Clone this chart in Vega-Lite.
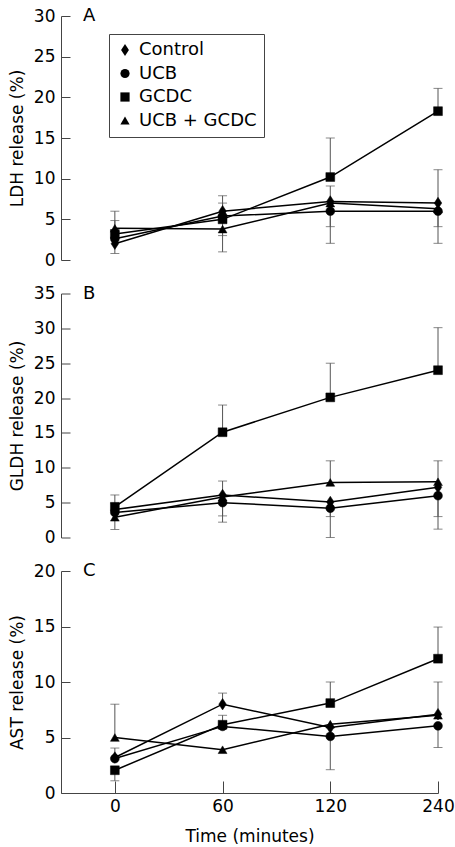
{
  "$schema": "https://vega.github.io/schema/vega-lite/v6.json",
  "padding": {"left": 8, "top": 7, "right": 10, "bottom": 2},
  "bounds": "flush",
  "spacing": 33.5,
  "config": {
    "view": {"stroke": null},
    "font": "DejaVu Sans",
    "axis": {"grid": false, "domainColor": "#444", "tickColor": "#444", "labelColor": "black", "titleColor": "black", "labelFontSize": 17, "titleFontSize": 17, "titleFontWeight": "normal", "labelFont": "DejaVu Sans", "titleFont": "DejaVu Sans", "labelOverlap": false},
    "title": {"fontSize": 18, "fontWeight": "normal", "font": "DejaVu Sans", "color": "black"}
  },
  "resolve": {"legend": {"shape": "independent"}},
  "data": {"values": [
    {"panel": "A", "time": 0, "group": "Control", "mean": 2.0, "err": 0.8},
    {"panel": "A", "time": 60, "group": "Control", "mean": 6.0, "err": 7.9},
    {"panel": "A", "time": 120, "group": "Control", "mean": 7.2, "err": 9.1},
    {"panel": "A", "time": 240, "group": "Control", "mean": 7.0, "err": 11.1},
    {"panel": "A", "time": 0, "group": "UCB", "mean": 2.6, "err": null},
    {"panel": "A", "time": 60, "group": "UCB", "mean": 5.4, "err": 7.0},
    {"panel": "A", "time": 120, "group": "UCB", "mean": 6.0, "err": 2.05},
    {"panel": "A", "time": 240, "group": "UCB", "mean": 6.0, "err": 4.1},
    {"panel": "A", "time": 0, "group": "GCDC", "mean": 3.2, "err": 4.85},
    {"panel": "A", "time": 60, "group": "GCDC", "mean": 5.0, "err": 3.0},
    {"panel": "A", "time": 120, "group": "GCDC", "mean": 10.2, "err": 15.0},
    {"panel": "A", "time": 240, "group": "GCDC", "mean": 18.3, "err": 21.1},
    {"panel": "A", "time": 0, "group": "UCB + GCDC", "mean": 3.9, "err": 6.0},
    {"panel": "A", "time": 60, "group": "UCB + GCDC", "mean": 3.8, "err": 1.0},
    {"panel": "A", "time": 120, "group": "UCB + GCDC", "mean": 7.0, "err": 4.1},
    {"panel": "A", "time": 240, "group": "UCB + GCDC", "mean": 6.3, "err": 2.05},
    {"panel": "B", "time": 0, "group": "Control", "mean": 4.0, "err": 4.9},
    {"panel": "B", "time": 60, "group": "Control", "mean": 6.1, "err": 8.1},
    {"panel": "B", "time": 120, "group": "Control", "mean": 5.1, "err": 3.0},
    {"panel": "B", "time": 240, "group": "Control", "mean": 7.2, "err": 3.0},
    {"panel": "B", "time": 0, "group": "UCB", "mean": 3.6, "err": null},
    {"panel": "B", "time": 60, "group": "UCB", "mean": 5.0, "err": 2.2},
    {"panel": "B", "time": 120, "group": "UCB", "mean": 4.2, "err": 0},
    {"panel": "B", "time": 240, "group": "UCB", "mean": 6.0, "err": 1.2},
    {"panel": "B", "time": 0, "group": "GCDC", "mean": 4.4, "err": 6.1},
    {"panel": "B", "time": 60, "group": "GCDC", "mean": 15.1, "err": 19.0},
    {"panel": "B", "time": 120, "group": "GCDC", "mean": 20.1, "err": 25.0},
    {"panel": "B", "time": 240, "group": "GCDC", "mean": 24.0, "err": 30.1},
    {"panel": "B", "time": 0, "group": "UCB + GCDC", "mean": 2.9, "err": 1.15},
    {"panel": "B", "time": 60, "group": "UCB + GCDC", "mean": 5.8, "err": 3.1},
    {"panel": "B", "time": 120, "group": "UCB + GCDC", "mean": 7.9, "err": 11.0},
    {"panel": "B", "time": 240, "group": "UCB + GCDC", "mean": 8.0, "err": 11.0},
    {"panel": "C", "time": 0, "group": "Control", "mean": 3.2, "err": 4.05},
    {"panel": "C", "time": 60, "group": "Control", "mean": 8.0, "err": 9.0},
    {"panel": "C", "time": 120, "group": "Control", "mean": 5.9, "err": null},
    {"panel": "C", "time": 240, "group": "Control", "mean": 7.1, "err": 10.0},
    {"panel": "C", "time": 0, "group": "UCB", "mean": 3.1, "err": null},
    {"panel": "C", "time": 60, "group": "UCB", "mean": 6.0, "err": null},
    {"panel": "C", "time": 120, "group": "UCB", "mean": 5.1, "err": 2.1},
    {"panel": "C", "time": 240, "group": "UCB", "mean": 6.05, "err": 4.1},
    {"panel": "C", "time": 0, "group": "GCDC", "mean": 2.05, "err": 1.1},
    {"panel": "C", "time": 60, "group": "GCDC", "mean": 6.15, "err": 7.0},
    {"panel": "C", "time": 120, "group": "GCDC", "mean": 8.1, "err": 10.0},
    {"panel": "C", "time": 240, "group": "GCDC", "mean": 12.1, "err": 14.95},
    {"panel": "C", "time": 0, "group": "UCB + GCDC", "mean": 5.0, "err": 8.0},
    {"panel": "C", "time": 60, "group": "UCB + GCDC", "mean": 3.9, "err": null},
    {"panel": "C", "time": 120, "group": "UCB + GCDC", "mean": 6.2, "err": null},
    {"panel": "C", "time": 240, "group": "UCB + GCDC", "mean": 7.0, "err": null}
  ]},
  "vconcat": [
    {
      "width": 377, "height": 244,
      "title": {"text": "A", "anchor": "start", "frame": "group", "dx": 22, "dy": 27, "offset": 0, "baseline": "middle"},
      "transform": [{"filter": "datum.panel === 'A'"}],
      "encoding": {
        "x": {"field": "time", "type": "ordinal", "scale": {"type": "point", "domain": [0, 60, 120, 240], "padding": 0.25, "align": 1}, "axis": null}
      },
      "layer": [
        {"transform": [{"filter": "isValid(datum.err)"}], "mark": {"type": "rule", "color": "#555", "strokeWidth": 1},
         "encoding": {"y": {"field": "mean", "type": "quantitative", "scale": {"domain": [0, 30]}, "title": "LDH release (%)", "axis": {"values": [0, 5, 10, 15, 20, 25, 30], "labelOverlap": false, "tickSize": -9, "labelPadding": 15, "titlePadding": 7}}, "y2": {"field": "err"}}},
        {"transform": [{"filter": "isValid(datum.err)"}], "mark": {"type": "tick", "color": "#555", "size": 9, "thickness": 1},
         "encoding": {"y": {"field": "err", "type": "quantitative", "title": "LDH release (%)", "axis": {"values": [0, 5, 10, 15, 20, 25, 30], "labelOverlap": false, "tickSize": -9, "labelPadding": 15, "titlePadding": 7}}}},
        {"mark": {"type": "line", "color": "black", "strokeWidth": 1.5},
         "encoding": {"y": {"field": "mean", "type": "quantitative", "title": "LDH release (%)", "axis": {"values": [0, 5, 10, 15, 20, 25, 30], "labelOverlap": false, "tickSize": -9, "labelPadding": 15, "titlePadding": 7}}, "detail": {"field": "group"}}},
        {"mark": {"type": "point", "filled": true, "color": "black", "size": 78, "opacity": 1, "stroke": "black", "strokeWidth": 0.5},
         "encoding": {"y": {"field": "mean", "type": "quantitative", "title": "LDH release (%)", "axis": {"values": [0, 5, 10, 15, 20, 25, 30], "labelOverlap": false, "tickSize": -9, "labelPadding": 15, "titlePadding": 7}},
           "shape": {"field": "group", "type": "nominal",
             "scale": {"domain": ["Control", "UCB", "GCDC", "UCB + GCDC"], "range": ["M0,-1.3L0.85,0L0,1.3L-0.85,0Z", "circle", "square", "triangle-up"]},
             "legend": {"orient": "none", "legendX": 48, "legendY": 18, "title": null, "strokeColor": "#444", "fillColor": "white", "padding": 7, "labelFontSize": 18, "labelFont": "DejaVu Sans", "labelColor": "black", "symbolSize": 85, "symbolFillColor": "black", "symbolStrokeColor": "black", "rowPadding": 5.5, "labelOffset": 5}}}}
      ]
    },
    {
      "width": 377, "height": 244,
      "title": {"text": "B", "anchor": "start", "frame": "group", "dx": 22, "dy": 27, "offset": 0, "baseline": "middle"},
      "transform": [{"filter": "datum.panel === 'B'"}],
      "encoding": {
        "x": {"field": "time", "type": "ordinal", "scale": {"type": "point", "domain": [0, 60, 120, 240], "padding": 0.25, "align": 1}, "axis": null}
      },
      "layer": [
        {"transform": [{"filter": "isValid(datum.err)"}], "mark": {"type": "rule", "color": "#555", "strokeWidth": 1},
         "encoding": {"y": {"field": "mean", "type": "quantitative", "scale": {"domain": [0, 35]}, "title": "GLDH release (%)", "axis": {"values": [0, 5, 10, 15, 20, 25, 30, 35], "labelOverlap": false, "tickSize": -9, "labelPadding": 15, "titlePadding": 7}}, "y2": {"field": "err"}}},
        {"transform": [{"filter": "isValid(datum.err)"}], "mark": {"type": "tick", "color": "#555", "size": 9, "thickness": 1},
         "encoding": {"y": {"field": "err", "type": "quantitative", "title": "GLDH release (%)", "axis": {"values": [0, 5, 10, 15, 20, 25, 30, 35], "labelOverlap": false, "tickSize": -9, "labelPadding": 15, "titlePadding": 7}}}},
        {"mark": {"type": "line", "color": "black", "strokeWidth": 1.5},
         "encoding": {"y": {"field": "mean", "type": "quantitative", "title": "GLDH release (%)", "axis": {"values": [0, 5, 10, 15, 20, 25, 30, 35], "labelOverlap": false, "tickSize": -9, "labelPadding": 15, "titlePadding": 7}}, "detail": {"field": "group"}}},
        {"mark": {"type": "point", "filled": true, "color": "black", "size": 78, "opacity": 1, "stroke": "black", "strokeWidth": 0.5},
         "encoding": {"y": {"field": "mean", "type": "quantitative", "title": "GLDH release (%)", "axis": {"values": [0, 5, 10, 15, 20, 25, 30, 35], "labelOverlap": false, "tickSize": -9, "labelPadding": 15, "titlePadding": 7}},
           "shape": {"field": "group", "type": "nominal",
             "scale": {"domain": ["Control", "UCB", "GCDC", "UCB + GCDC"], "range": ["M0,-1.3L0.85,0L0,1.3L-0.85,0Z", "circle", "square", "triangle-up"]},
             "legend": null}}}
      ]
    },
    {
      "width": 377, "height": 222,
      "title": {"text": "C", "anchor": "start", "frame": "group", "dx": 22, "dy": 27, "offset": 0, "baseline": "middle"},
      "transform": [{"filter": "datum.panel === 'C'"}],
      "encoding": {
        "x": {"field": "time", "type": "ordinal", "scale": {"type": "point", "domain": [0, 60, 120, 240], "padding": 0.25, "align": 1}, "title": "Time (minutes)", "axis": {"labelAngle": 0, "tickSize": -12, "labelPadding": 17, "titlePadding": 14}}
      },
      "layer": [
        {"transform": [{"filter": "isValid(datum.err)"}], "mark": {"type": "rule", "color": "#555", "strokeWidth": 1},
         "encoding": {"y": {"field": "mean", "type": "quantitative", "scale": {"domain": [0, 20]}, "title": "AST release (%)", "axis": {"values": [0, 5, 10, 15, 20], "labelOverlap": false, "tickSize": -9, "labelPadding": 15, "titlePadding": 7}}, "y2": {"field": "err"}}},
        {"transform": [{"filter": "isValid(datum.err)"}], "mark": {"type": "tick", "color": "#555", "size": 9, "thickness": 1},
         "encoding": {"y": {"field": "err", "type": "quantitative", "title": "AST release (%)", "axis": {"values": [0, 5, 10, 15, 20], "labelOverlap": false, "tickSize": -9, "labelPadding": 15, "titlePadding": 7}}}},
        {"mark": {"type": "line", "color": "black", "strokeWidth": 1.5},
         "encoding": {"y": {"field": "mean", "type": "quantitative", "title": "AST release (%)", "axis": {"values": [0, 5, 10, 15, 20], "labelOverlap": false, "tickSize": -9, "labelPadding": 15, "titlePadding": 7}}, "detail": {"field": "group"}}},
        {"mark": {"type": "point", "filled": true, "color": "black", "size": 78, "opacity": 1, "stroke": "black", "strokeWidth": 0.5},
         "encoding": {"y": {"field": "mean", "type": "quantitative", "title": "AST release (%)", "axis": {"values": [0, 5, 10, 15, 20], "labelOverlap": false, "tickSize": -9, "labelPadding": 15, "titlePadding": 7}},
           "shape": {"field": "group", "type": "nominal",
             "scale": {"domain": ["Control", "UCB", "GCDC", "UCB + GCDC"], "range": ["M0,-1.3L0.85,0L0,1.3L-0.85,0Z", "circle", "square", "triangle-up"]},
             "legend": null}}}
      ]
    }
  ]
}
